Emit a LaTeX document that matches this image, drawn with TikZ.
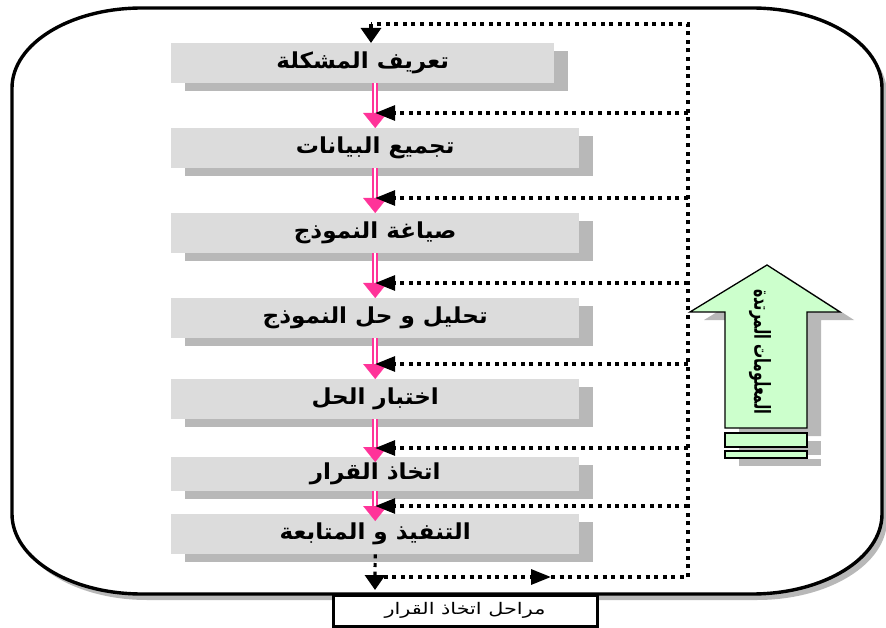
\documentclass[tikz,border=0pt]{standalone}
\usepackage{fontspec}
\usetikzlibrary{arrows.meta,shadows}
\TeXXeTstate=1
\newfontfamily\arabicwide[Script=Arabic,FakeStretch=1.05]{DejaVu Sans}
\newfontfamily\arabicnarrow[Script=Arabic,FakeStretch=0.64]{DejaVu Sans}
\newfontfamily\arabiccaption[Script=Arabic,FakeStretch=1.3]{DejaVu Sans}

\definecolor{boxgray}{RGB}{220,220,220}
\definecolor{shadowgray}{RGB}{184,184,184}
\definecolor{flowpink}{RGB}{255,51,153}
\definecolor{feedgreen}{RGB}{204,255,204}

\tikzset{
  boxshadow/.style={drop shadow={shadow xshift=14pt,shadow yshift=-8pt,fill=shadowgray,opacity=1}},
  frameline/.style={draw=black,line width=3.4pt,fill=white,
    drop shadow={shadow xshift=5pt,shadow yshift=-6pt,fill=shadowgray,opacity=1}},
  stagebox/.style={rectangle,fill=boxgray,boxshadow,anchor=north west,inner sep=0pt,
    minimum width=408pt,minimum height=40pt,
    font=\arabicwide\bfseries\fontsize{22}{24}\selectfont},
  pinkline/.style={draw=flowpink,line width=2.2pt,double=white,double distance=2pt},
  pinkhead/.style={draw=flowpink,fill=flowpink,line width=0.1pt,
    -{Triangle[width=24pt,length=15pt,fill=flowpink]}},
  dotline/.style={draw=black,line width=3.2pt,dash pattern=on 4pt off 4.6pt},
  lefttip/.style={-{Triangle[width=15pt,length=20pt]}},
  downtip/.style={-{Triangle[width=20pt,length=15pt]}},
  greenshape/.style={draw=black,line width=1.3pt,fill=feedgreen,boxshadow},
  feedlabel/.style={font=\arabicnarrow\bfseries\fontsize{22}{24}\selectfont,inner sep=0pt},
  titlebox/.style={draw=black,line width=3pt,fill=white,minimum width=264pt,minimum height=31pt,
    inner sep=0pt,font=\arabiccaption\fontsize{16}{18}\selectfont}
}

\begin{document}
\begin{tikzpicture}[x=1pt,y=-1pt]
\useasboundingbox (0,0) rectangle (886,628);

% outer frame with elliptic corners
\draw[frameline] (12,88) .. controls (12,43.8) and (70.2,8) .. (142,8) -- (752,8)
  .. controls (823.8,8) and (882,43.8) .. (882,88) -- (882,514)
  .. controls (882,558.2) and (823.8,594) .. (752,594) -- (142,594)
  .. controls (70.2,594) and (12,558.2) .. (12,514) -- cycle;

% stages of the process
\node[stagebox,minimum width=383pt] (b1) at (171,43) {\beginR تعريف المشكلة\endR};
\node[stagebox] (b2) at (171,128) {\beginR تجميع البيانات\endR};
\node[stagebox] (b3) at (171,213) {\beginR صياغة النموذج\endR};
\node[stagebox] (b4) at (171,298) {\beginR تحليل و حل النموذج\endR};
\node[stagebox] (b5) at (171,379) {\beginR اختبار الحل\endR};
\node[stagebox,minimum height=34pt] (b6) at (171,457) {\beginR اتخاذ القرار\endR};
\node[stagebox] (b7) at (171,514) {\beginR التنفيذ و المتابعة\endR};

% upward block arrow for the feedback
\draw[greenshape] (767,265) -- (840,312) -- (807,312) -- (807,428) -- (725,428)
  -- (725,312) -- (690,312) -- cycle;
\draw[greenshape] (725,433) rectangle (807,447);
\draw[greenshape] (725,451) rectangle (807,458);
\node[feedlabel,rotate=-90] (fbtext) at (760,352) {\beginR المعلومات المرتدة\endR};

% main flow between the stages
\draw[pinkline] (b2.north |- b1.south) -- ([yshift=15pt]b2.north);
\draw[pinkhead] ([yshift=15pt]b2.north) -- (b2.north);
\draw[pinkline] (b2.south) -- ([yshift=15pt]b3.north);
\draw[pinkhead] ([yshift=15pt]b3.north) -- (b3.north);
\draw[pinkline] (b3.south) -- ([yshift=15pt]b4.north);
\draw[pinkhead] ([yshift=15pt]b4.north) -- (b4.north);
\draw[pinkline] (b4.south) -- ([yshift=15pt]b5.north);
\draw[pinkhead] ([yshift=15pt]b5.north) -- (b5.north);
\draw[pinkline] (b5.south) -- ([yshift=10pt]b6.north);
\draw[pinkhead] ([yshift=10pt]b6.north) -- ([yshift=-5pt]b6.north);
\draw[pinkline] (b6.south) -- ([yshift=8pt]b7.north);
\draw[pinkhead] ([yshift=8pt]b7.north) -- ([yshift=-7pt]b7.north);

% feedback loop
\coordinate (loopTop) at (688,24);
\coordinate (loopBot) at (688,577);
\coordinate (topCorner) at (371,24);
\coordinate (outSplit) at (375,577);
\coordinate (outMid) at (551,577);
\coordinate (outEnd) at (375,590);
\coordinate (f1) at (688,113);
\coordinate (f2) at (688,198);
\coordinate (f3) at (688,283);
\coordinate (f4) at (688,364);
\coordinate (f5) at (688,448);
\coordinate (f6) at (688,506);

\draw[dotline] (loopBot) -- (loopTop) -- (topCorner);
\draw[dotline,downtip] (topCorner) -- (topCorner |- b1.north);
\draw[dotline,lefttip] (f1) -- (f1 -| b2.north);
\draw[dotline,lefttip] (f2) -- (f2 -| b2.north);
\draw[dotline,lefttip] (f3) -- (f3 -| b2.north);
\draw[dotline,lefttip] (f4) -- (f4 -| b2.north);
\draw[dotline,lefttip] (f5) -- (f5 -| b2.north);
\draw[dotline,lefttip] (f6) -- (f6 -| b2.north);

% output of the last stage
\draw[dotline] (b7.south) -- (outSplit);
\draw[dotline,downtip] (outSplit) -- (outEnd);
\draw[dotline,-{Triangle[width=15pt,length=20pt]}] (outSplit) -- (outMid);
\draw[dotline] (outMid) -- (loopBot);

% caption box
\node[titlebox] (title) at (465,610.5) {\beginR مراحل اتخاذ القرار\endR};
\end{tikzpicture}
\end{document}
